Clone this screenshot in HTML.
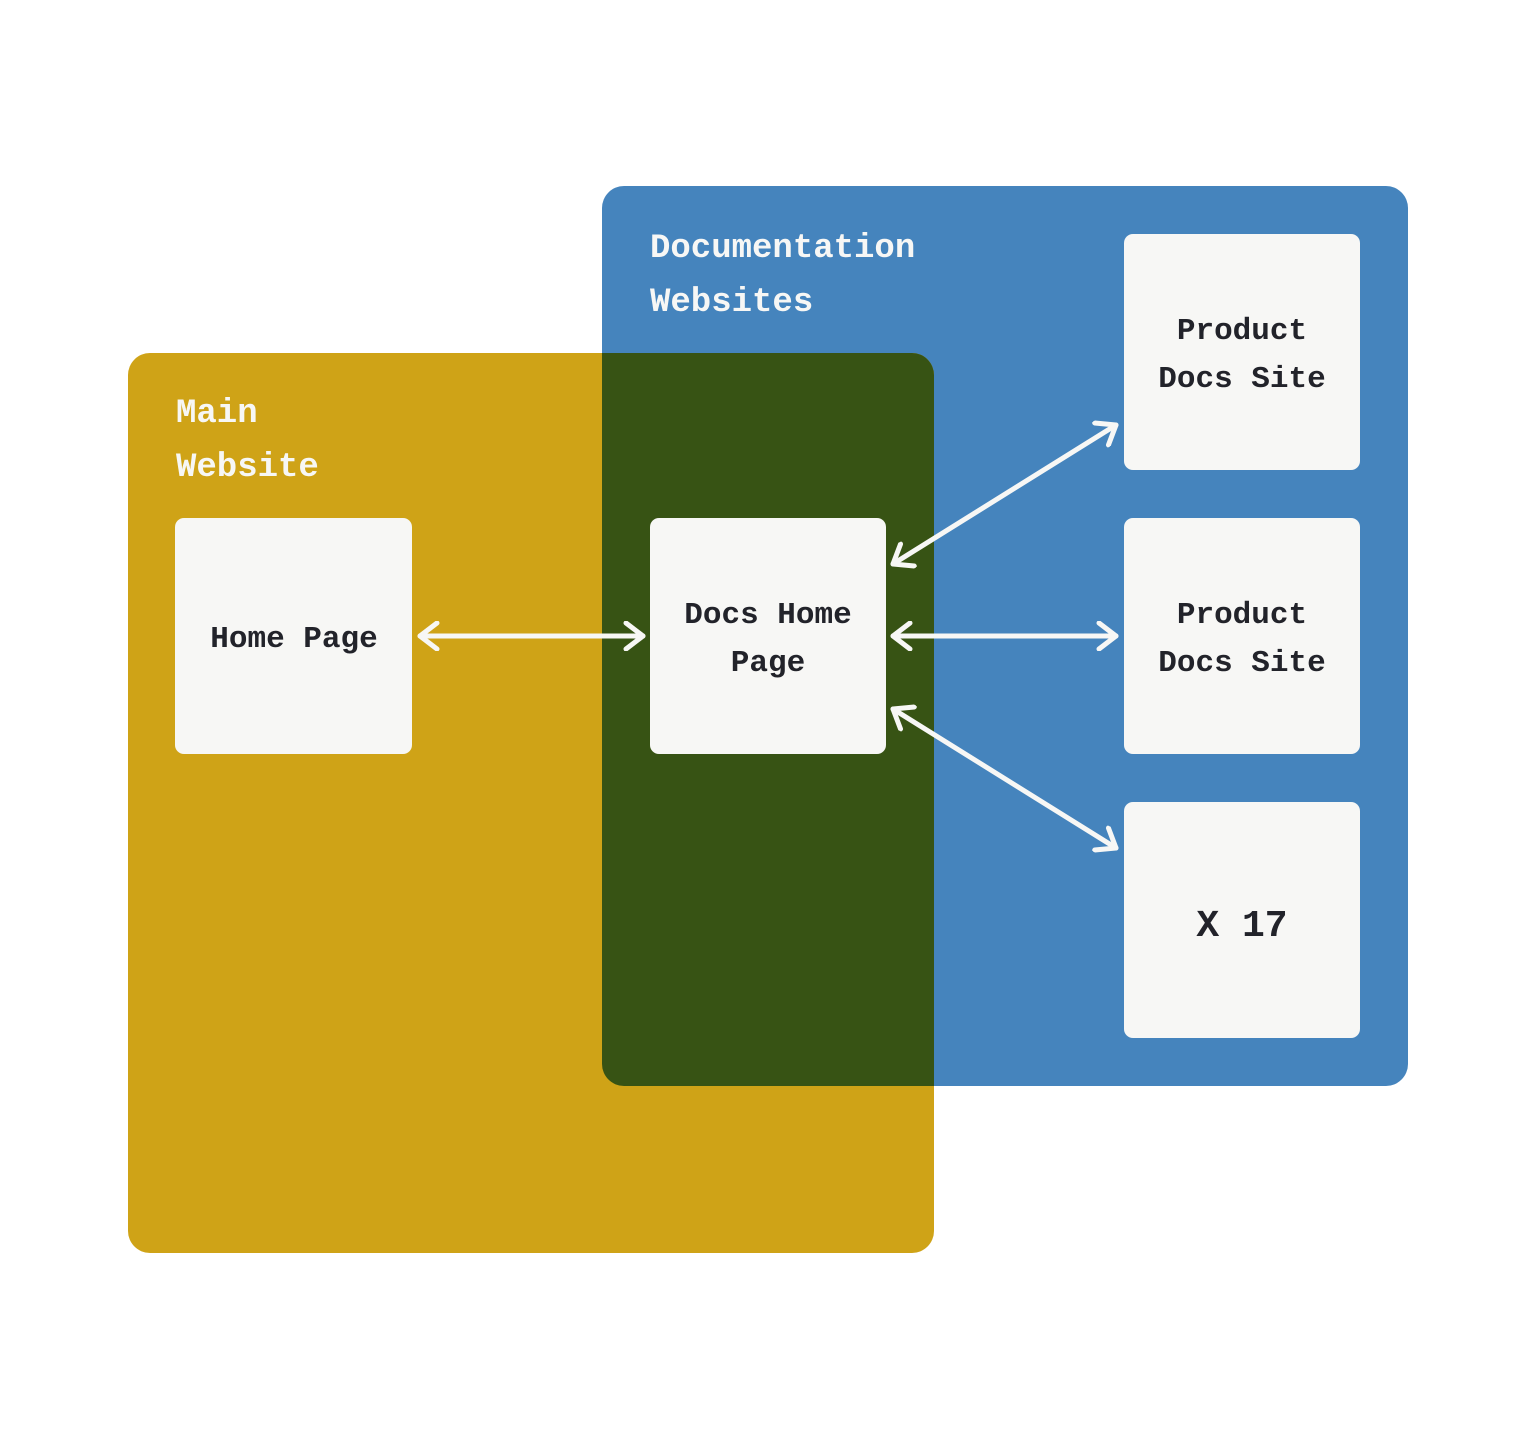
<!DOCTYPE html>
<html><head><meta charset="utf-8"><style>
html,body{margin:0;padding:0;background:#fff;}
svg{display:block}
text{font-family:"Liberation Mono","DejaVu Sans Mono",monospace;font-weight:bold;}
</style></head><body>
<svg width="1536" height="1440" viewBox="0 0 1536 1440" xmlns="http://www.w3.org/2000/svg">
<defs>
<clipPath id="cb"><rect x="602" y="186" width="806" height="900" rx="22"/></clipPath>
<marker id="ah" viewBox="0 0 30 30" refX="25" refY="15" markerWidth="30" markerHeight="30" markerUnits="userSpaceOnUse" orient="auto-start-reverse">
<path d="M8,2 L25,15 L8,28" fill="none" stroke="#f7f7f5" stroke-width="5" stroke-linecap="round" stroke-linejoin="round"/>
</marker>
</defs>
<rect x="602" y="186" width="806" height="900" rx="22" fill="#4584bd"/>
<rect x="128" y="353" width="806" height="900" rx="22" fill="#cfa317"/>
<rect x="128" y="353" width="806" height="900" rx="22" fill="#375314" clip-path="url(#cb)"/>
<text x="650" y="257" font-size="34" fill="#f7f7f5">Documentation</text>
<text x="650" y="311" font-size="34" fill="#f7f7f5">Websites</text>
<text x="176" y="422" font-size="34" fill="#f7f7f5">Main</text>
<text x="176" y="476" font-size="34" fill="#f7f7f5">Website</text>
<g fill="#f7f7f5">
<rect x="175" y="518" width="237" height="236" rx="9"/>
<rect x="650" y="518" width="236" height="236" rx="9"/>
<rect x="1124" y="234" width="236" height="236" rx="9"/>
<rect x="1124" y="518" width="236" height="236" rx="9"/>
<rect x="1124" y="802" width="236" height="236" rx="9"/>
</g>
<g fill="#22232a" font-size="31" text-anchor="middle">
<text x="294" y="647">Home Page</text>
<text x="768" y="623">Docs Home</text>
<text x="768" y="671">Page</text>
<text x="1242" y="339">Product</text>
<text x="1242" y="387">Docs Site</text>
<text x="1242" y="623">Product</text>
<text x="1242" y="671">Docs Site</text>
<text x="1242" y="936" font-size="38">X 17</text>
</g>
<g stroke="#f7f7f5" stroke-width="5" stroke-linecap="round" fill="none">
<line x1="420" y1="636" x2="643" y2="636" marker-start="url(#ah)" marker-end="url(#ah)"/>
<line x1="893" y1="636" x2="1116" y2="636" marker-start="url(#ah)" marker-end="url(#ah)"/>
<line x1="893" y1="564" x2="1116" y2="425" marker-start="url(#ah)" marker-end="url(#ah)"/>
<line x1="893" y1="709" x2="1116" y2="848" marker-start="url(#ah)" marker-end="url(#ah)"/>
</g>
</svg>
</body></html>
